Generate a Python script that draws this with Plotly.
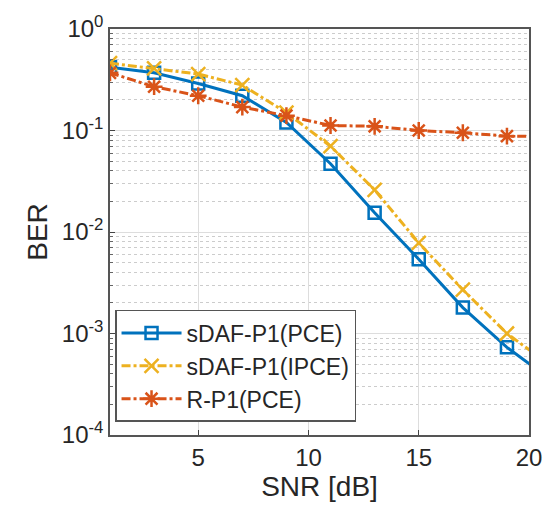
import plotly.graph_objects as go

snr = [1, 3, 5, 7, 9, 11, 13, 15, 17, 19, 21]
ber_sdaf_pce = [0.42, 0.37, 0.29, 0.22, 0.12, 0.047, 0.0155, 0.0054, 0.0018, 0.00073, 0.00035]
ber_sdaf_ipce = [0.46, 0.41, 0.36, 0.28, 0.15, 0.070, 0.026, 0.0078, 0.0027, 0.0010, 0.00048]
ber_r_pce = [0.37, 0.27, 0.22, 0.17, 0.14, 0.112, 0.110, 0.100, 0.095, 0.088, 0.087]
names = ["sDAF-P1(PCE)", "sDAF-P1(IPCE)", "R-P1(PCE)"]

ytick_vals = [1, 0.1, 0.01, 0.001, 0.0001]
ytick_text = ["10<sup>0</sup>", "10<sup>-1</sup>", "10<sup>-2</sup>", "10<sup>-3</sup>", "10<sup>-4</sup>"]
xtick_vals = [5, 10, 15, 20]

fig = go.Figure()
fig.add_trace(go.Scatter(x=snr, y=ber_sdaf_pce, name=names[0], mode="lines+markers",
                         line=dict(color="#0072BD", width=3, dash="solid"),
                         marker=dict(symbol="square-open", size=12, line=dict(width=2.5, color="#0072BD"))))
fig.add_trace(go.Scatter(x=snr, y=ber_sdaf_ipce, name=names[1], mode="lines+markers",
                         line=dict(color="#EDB120", width=3, dash="dashdot"),
                         marker=dict(symbol="x-thin-open", size=14, line=dict(width=2.5, color="#EDB120"))))
fig.add_trace(go.Scatter(x=snr, y=ber_r_pce, name=names[2], mode="lines+markers",
                         line=dict(color="#D95319", width=3, dash="dashdot"),
                         marker=dict(symbol="asterisk-open", size=14, line=dict(width=2.5, color="#D95319"))))

font_family = "Liberation Sans, Arial, sans-serif"
fig.update_layout(
    width=554, height=525,
    margin=dict(l=110, r=21, t=23, b=90),
    paper_bgcolor="white", plot_bgcolor="white",
    font=dict(family=font_family, size=24, color="#262626"),
    showlegend=True,
    legend=dict(x=0.012, y=0.308, xanchor="left", yanchor="top",
                bgcolor="white", bordercolor="#555555", borderwidth=1.5,
                font=dict(size=23, color="#262626"), tracegroupgap=0, itemwidth=60),
    xaxis=dict(range=[1, 20], tickvals=xtick_vals, ticks="inside", ticklen=5,
               tickcolor="#444444", showline=True, linecolor="#555555", linewidth=1.5, mirror=True,
               showgrid=True, gridcolor="#dddddd", gridwidth=1, zeroline=False,
               ticklabeloverflow="allow",
               title=dict(text="SNR [dB]", font=dict(size=28), standoff=6),
               tickfont=dict(size=24)),
    yaxis=dict(type="log", range=[-4, 0], tickvals=ytick_vals, ticktext=ytick_text,
               ticks="inside", ticklen=5, tickcolor="#444444",
               showline=True, linecolor="#555555", linewidth=1.5, mirror=True,
               showgrid=True, gridcolor="#dddddd", gridwidth=1, zeroline=False,
               ticklabeloverflow="allow",
               minor=dict(dtick="D1", showgrid=True, gridcolor="#cccccc", griddash="dot",
                          ticks="inside", ticklen=3, tickcolor="#666666"),
               title=dict(text="BER", font=dict(size=28), standoff=6),
               tickfont=dict(size=24)),
)

fig.write_html("out.html", config={"displayModeBar": False},
               post_script="document.body.style.margin='0';")
